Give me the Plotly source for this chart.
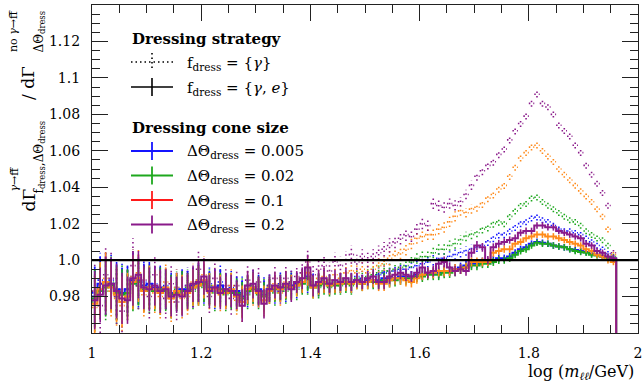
import plotly.graph_objects as go

# ---------------- data ----------------
x_start = 1.0
bin_width = 0.01
n_bins = 96
edges = [round(x_start + bin_width * i, 3) for i in range(n_bins + 1)]
centers = [round((edges[i] + edges[i + 1]) / 2, 4) for i in range(n_bins)]

# shared half-lengths of the error bars
err = [0.016, 0.015, 0.016, 0.014, 0.015, 0.014, 0.013, 0.015, 0.013, 0.012,
       0.012, 0.011, 0.012, 0.011, 0.011, 0.010, 0.011, 0.010, 0.010, 0.011,
       0.010, 0.009, 0.010, 0.009, 0.009, 0.009, 0.008, 0.009, 0.008, 0.008,
       0.008, 0.008, 0.007, 0.007, 0.007, 0.007, 0.007, 0.006, 0.006, 0.007,
       0.006, 0.006, 0.006, 0.005, 0.005, 0.005, 0.005, 0.005, 0.004, 0.004,
       0.004, 0.004, 0.004, 0.004, 0.004, 0.0035, 0.0035, 0.0035, 0.003, 0.003,
       0.003, 0.003, 0.003, 0.003, 0.003, 0.0028, 0.0028, 0.0026, 0.0026, 0.0025,
       0.0025, 0.0024, 0.0023, 0.0022, 0.0021, 0.002, 0.002, 0.002, 0.0019, 0.0019,
       0.0018, 0.0018, 0.0018, 0.0018, 0.0018, 0.0018, 0.0018, 0.0018, 0.0018, 0.0018,
       0.0018, 0.0018, 0.0018, 0.0018, 0.0018, 0.0018]

# f_dress = {gamma, e}  (solid)
solid_005 = [0.980, 0.987, 0.988, 0.987, 0.984, 0.982, 0.984, 0.989, 0.989, 0.986,
             0.987, 0.985, 0.985, 0.984, 0.982, 0.983, 0.984, 0.984, 0.986, 0.987,
             0.988, 0.985, 0.985, 0.986, 0.984, 0.983, 0.983, 0.980, 0.984, 0.985,
             0.984, 0.981, 0.984, 0.985, 0.985, 0.986, 0.986, 0.987, 0.988, 0.991,
             0.986, 0.987, 0.988, 0.987, 0.987, 0.988, 0.988, 0.988, 0.989, 0.988,
             0.989, 0.989, 0.989, 0.990, 0.990, 0.990, 0.991, 0.991, 0.991, 0.992,
             0.992, 0.993, 0.993, 0.993, 0.994, 0.994, 0.995, 0.996, 0.997, 0.998,
             0.998, 0.999, 0.999, 1.000, 1.001, 1.001, 1.002, 1.004, 1.006, 1.007,
             1.009, 1.010, 1.0095, 1.009, 1.008, 1.0075, 1.007, 1.006, 1.0055, 1.005,
             1.0045, 1.0035, 1.003, 1.002, 1.0015, 1.0007]
solid_002 = [0.979, 0.983, 0.985, 0.986, 0.982, 0.981, 0.982, 0.987, 0.988, 0.984,
             0.985, 0.983, 0.984, 0.983, 0.981, 0.982, 0.983, 0.983, 0.985, 0.986,
             0.987, 0.984, 0.984, 0.984, 0.983, 0.982, 0.982, 0.979, 0.983, 0.984,
             0.983, 0.980, 0.983, 0.984, 0.984, 0.985, 0.985, 0.986, 0.987, 0.990,
             0.985, 0.986, 0.987, 0.986, 0.986, 0.987, 0.987, 0.987, 0.988, 0.987,
             0.988, 0.988, 0.988, 0.989, 0.989, 0.989, 0.990, 0.990, 0.990, 0.991,
             0.991, 0.992, 0.992, 0.992, 0.993, 0.993, 0.994, 0.995, 0.996, 0.997,
             0.997, 0.998, 0.998, 0.999, 1.000, 1.000, 1.001, 1.003, 1.005, 1.006,
             1.008, 1.0095, 1.009, 1.009, 1.008, 1.0075, 1.007, 1.006, 1.005, 1.0045,
             1.004, 1.003, 1.0025, 1.002, 1.001, 1.0005]
solid_01 = [0.976, 0.984, 0.988, 0.985, 0.981, 0.977, 0.980, 0.988, 0.990, 0.983,
            0.985, 0.984, 0.982, 0.985, 0.979, 0.983, 0.981, 0.982, 0.985, 0.986,
            0.989, 0.984, 0.984, 0.983, 0.982, 0.984, 0.980, 0.977, 0.984, 0.985,
            0.982, 0.978, 0.983, 0.985, 0.984, 0.986, 0.985, 0.986, 0.988, 0.993,
            0.985, 0.987, 0.988, 0.986, 0.987, 0.987, 0.988, 0.987, 0.988, 0.987,
            0.988, 0.989, 0.987, 0.987, 0.989, 0.990, 0.990, 0.989, 0.988, 0.990,
            0.992, 0.993, 0.993, 0.994, 0.994, 0.994, 0.995, 0.995, 0.996, 0.999,
            0.999, 0.999, 0.999, 1.004, 1.005, 1.006, 1.006, 1.009, 1.010, 1.012,
            1.013, 1.014, 1.014, 1.013, 1.013, 1.012, 1.011, 1.010, 1.009, 1.008,
            1.006, 1.005, 1.003, 1.002, 1.000, 0.999]
solid_02 = [0.978, 0.981, 0.986, 0.987, 0.983, 0.979, 0.978, 0.990, 0.992, 0.985,
            0.984, 0.986, 0.983, 0.984, 0.980, 0.981, 0.980, 0.983, 0.987, 0.988,
            0.991, 0.983, 0.985, 0.982, 0.984, 0.983, 0.981, 0.975, 0.986, 0.987,
            0.983, 0.976, 0.984, 0.986, 0.985, 0.987, 0.984, 0.988, 0.990, 0.996,
            0.986, 0.988, 0.990, 0.987, 0.989, 0.988, 0.990, 0.988, 0.989, 0.988,
            0.990, 0.991, 0.988, 0.988, 0.991, 0.992, 0.993, 0.992, 0.991, 0.993,
            0.996, 0.993, 0.994, 0.998, 0.999, 0.996, 0.994, 0.995, 0.994, 1.004,
            1.008, 1.007, 1.000, 1.007, 1.009, 1.010, 1.011, 1.012, 1.015, 1.016,
            1.016, 1.019, 1.019, 1.018, 1.018, 1.016, 1.015, 1.014, 1.013, 1.012,
            1.009, 1.008, 1.005, 1.004, 1.002, 1.001]

# f_dress = {gamma}  (dotted)
dotted_005 = [0.982, 0.989, 0.986, 0.989, 0.982, 0.984, 0.982, 0.991, 0.987, 0.988,
              0.985, 0.987, 0.983, 0.986, 0.980, 0.985, 0.982, 0.986, 0.984, 0.989,
              0.986, 0.987, 0.983, 0.988, 0.982, 0.985, 0.981, 0.982, 0.982, 0.987,
              0.982, 0.983, 0.986, 0.983, 0.987, 0.984, 0.988, 0.985, 0.990, 0.989,
              0.988, 0.986, 0.990, 0.986, 0.989, 0.987, 0.990, 0.987, 0.991, 0.990,
              0.990, 0.991, 0.992, 0.993, 0.994, 0.994, 0.995, 0.995, 0.996, 0.997,
              0.998, 0.999, 1.000, 1.001, 1.001, 1.002, 1.003, 1.004, 1.005, 1.006,
              1.007, 1.008, 1.010, 1.012, 1.014, 1.014, 1.016, 1.018, 1.020, 1.021,
              1.023, 1.0236, 1.022, 1.021, 1.019, 1.017, 1.016, 1.016, 1.015, 1.014,
              1.012, 1.010, 1.008, 1.006, 1.0035, 1.001]
dotted_002 = [0.977, 0.985, 0.983, 0.988, 0.980, 0.983, 0.980, 0.989, 0.986, 0.986,
              0.983, 0.985, 0.982, 0.985, 0.979, 0.984, 0.981, 0.985, 0.983, 0.988,
              0.985, 0.986, 0.982, 0.986, 0.981, 0.984, 0.980, 0.981, 0.981, 0.986,
              0.981, 0.982, 0.985, 0.982, 0.986, 0.983, 0.987, 0.984, 0.989, 0.988,
              0.987, 0.985, 0.989, 0.985, 0.988, 0.986, 0.989, 0.986, 0.990, 0.989,
              0.991, 0.992, 0.993, 0.994, 0.994, 0.995, 0.996, 0.997, 0.999, 1.001,
              1.002, 1.002, 1.004, 1.006, 1.006, 1.008, 1.009, 1.011, 1.013, 1.014,
              1.015, 1.017, 1.018, 1.020, 1.021, 1.020, 1.024, 1.027, 1.030, 1.031,
              1.034, 1.0345, 1.032, 1.030, 1.028, 1.026, 1.024, 1.022, 1.021, 1.019,
              1.016, 1.014, 1.012, 1.011, 1.008, 1.002]
dotted_01 = [0.974, 0.986, 0.990, 0.983, 0.979, 0.975, 0.982, 0.991, 0.993, 0.981,
             0.987, 0.982, 0.980, 0.988, 0.977, 0.985, 0.979, 0.980, 0.988, 0.989,
             0.992, 0.982, 0.986, 0.981, 0.983, 0.986, 0.978, 0.975, 0.986, 0.983,
             0.984, 0.977, 0.985, 0.987, 0.982, 0.988, 0.986, 0.988, 0.990, 0.996,
             0.987, 0.990, 0.991, 0.989, 0.992, 0.990, 0.993, 0.994, 0.993, 0.995,
             0.993, 0.995, 0.997, 0.998, 1.001, 1.003, 1.004, 1.006, 1.009, 1.012,
             1.013, 1.014, 1.014, 1.017, 1.018, 1.021, 1.024, 1.027, 1.026, 1.028,
             1.029, 1.031, 1.034, 1.036, 1.039, 1.041, 1.046, 1.051, 1.056, 1.059,
             1.062, 1.063, 1.060, 1.057, 1.054, 1.050, 1.047, 1.044, 1.041, 1.038,
             1.035, 1.032, 1.028, 1.024, 1.017, 1.003]
dotted_02 = [0.983, 0.975, 0.992, 0.990, 0.980, 0.972, 0.984, 0.997, 0.986, 0.989,
             0.980, 0.992, 0.985, 0.979, 0.987, 0.977, 0.984, 0.986, 0.984, 0.995,
             0.987, 0.980, 0.990, 0.985, 0.986, 0.979, 0.986, 0.978, 0.989, 0.984,
             0.988, 0.981, 0.986, 0.990, 0.983, 0.990, 0.988, 0.991, 0.993, 0.999,
             0.992, 0.995, 0.997, 0.994, 0.999, 0.997, 1.000, 1.003, 0.999, 1.002,
             1.000, 1.002, 1.004, 1.006, 1.008, 1.010, 1.012, 1.014, 1.013, 1.017,
             1.020, 1.019, 1.031, 1.030, 1.029, 1.031, 1.030, 1.032, 1.036, 1.041,
             1.046, 1.049, 1.052, 1.054, 1.058, 1.061, 1.066, 1.071, 1.075, 1.079,
             1.086, 1.091, 1.086, 1.084, 1.080, 1.074, 1.071, 1.068, 1.063, 1.059,
             1.052, 1.047, 1.042, 1.037, 1.030, 1.004]

cone_labels = ["0.005", "0.02", "0.1", "0.2"]
legend_colors = ["#1414ff", "#1ea81e", "#ff1a1a", "#8a1a8a"]
data_colors = ["#1414ff", "#1ea81e", "#ff8a1a", "#8a1a8a"]
solid_series = [solid_005, solid_002, solid_01, solid_02]
dotted_series = [dotted_005, dotted_002, dotted_01, dotted_02]
ref_level = 1.0

for arr in solid_series + dotted_series + [err]:
    assert len(arr) == n_bins, len(arr)

# ---------------- figure ----------------
W, H = 644, 385
ML, MR, MT, MB = 92, 6, 5, 52
PW, PH = W - ML - MR, H - MT - MB
FONT = "DejaVu Serif"
DOT = "1.5px,3px"


def px(xp):
    return (xp - ML) / PW


def py(yp):
    return (MT + PH - yp) / PH


fig = go.Figure()


def err_segments(vals):
    xs, ys = [], []
    for c, v, e in zip(centers, vals, err):
        xs += [c, c, None]
        ys += [v - e, v + e, None]
    return xs, ys


# dotted series
for vals, col in zip(dotted_series, data_colors):
    xs, ys = [], []
    for i, v in enumerate(vals):
        xs += [edges[i], edges[i + 1], None]
        ys += [v, v, None]
    ex, ey = err_segments(vals)
    fig.add_trace(go.Scatter(x=xs + ex, y=ys + ey, mode="lines",
                             line=dict(color=col, width=1.6, dash=DOT),
                             showlegend=False, hoverinfo="skip"))

# solid series
for vals, col in zip(solid_series, data_colors):
    ex, ey = err_segments(vals)
    fig.add_trace(go.Scatter(x=ex, y=ey, mode="lines",
                             line=dict(color=col, width=1.6),
                             showlegend=False, hoverinfo="skip"))
    fig.add_trace(go.Scatter(x=edges + [edges[-1]], y=vals + [vals[-1], 0.0],
                             mode="lines", line=dict(color=col, width=2, shape="hv"),
                             showlegend=False, hoverinfo="skip"))

shapes = [dict(type="line", xref="paper", yref="y", x0=0, x1=1,
               y0=ref_level, y1=ref_level, line=dict(color="black", width=2.2))]
annotations = []

# ---- legend (drawn by hand) ----
LX0, LX1, LXC, TX = 131, 173, 152, 185
annotations.append(dict(xref="paper", yref="paper", x=px(LX0 - 1), y=py(39),
                        xanchor="left", yanchor="middle", showarrow=False,
                        text="<b>Dressing strategy</b>",
                        font=dict(family=FONT, size=15, color="black")))
annotations.append(dict(xref="paper", yref="paper", x=px(LX0 - 1), y=py(128),
                        xanchor="left", yanchor="middle", showarrow=False,
                        text="<b>Dressing cone size</b>",
                        font=dict(family=FONT, size=15, color="black")))

strategy_rows = [(62, "dot", "f<sub>dress</sub> = {<i>γ</i>}"),
                 (87, "solid", "f<sub>dress</sub> = {<i>γ</i>, <i>e</i>}")]
for yrow, dash, label in strategy_rows:
    d = DOT if dash == "dot" else "solid"
    shapes.append(dict(type="line", xref="paper", yref="paper",
                       x0=px(LX0), x1=px(LX1), y0=py(yrow), y1=py(yrow),
                       line=dict(color="black", width=1.6, dash=d)))
    shapes.append(dict(type="line", xref="paper", yref="paper",
                       x0=px(LXC), x1=px(LXC), y0=py(yrow - 9), y1=py(yrow + 9),
                       line=dict(color="black", width=1.6, dash=d)))
    annotations.append(dict(xref="paper", yref="paper", x=px(TX), y=py(yrow + 1),
                            xanchor="left", yanchor="middle", showarrow=False,
                            text=label, font=dict(family=FONT, size=15, color="black")))

cone_rows = [151, 175.5, 200, 224.5]
for yrow, lab, col in zip(cone_rows, cone_labels, legend_colors):
    shapes.append(dict(type="line", xref="paper", yref="paper",
                       x0=px(LX0), x1=px(LX1), y0=py(yrow), y1=py(yrow),
                       line=dict(color=col, width=1.8)))
    shapes.append(dict(type="line", xref="paper", yref="paper",
                       x0=px(LXC), x1=px(LXC), y0=py(yrow - 9), y1=py(yrow + 9),
                       line=dict(color=col, width=1.8)))
    annotations.append(dict(xref="paper", yref="paper", x=px(TX), y=py(yrow + 1),
                            xanchor="left", yanchor="middle", showarrow=False,
                            text="ΔΘ<sub>dress</sub> = " + lab,
                            font=dict(family=FONT, size=15, color="black")))

# ---- axis titles ----
annotations.append(dict(xref="paper", yref="paper", x=px(636), y=py(372),
                        xanchor="right", yanchor="middle", showarrow=False,
                        text="log (<i>m</i><sub><i>ℓℓ</i></sub>/GeV)",
                        font=dict(family=FONT, size=16, color="black")))

ytitle_parts = [
    # (x_center_px, y_bottom_px, text, size)
    (28, 214, "dΓ", 17),
    (14, 194, "<i>γ</i>→ff̄", 11),
    (39, 196, "f<sub>dress</sub>,ΔΘ<sub>dress</sub>", 12),
    (28, 102, "/ dΓ", 17),
    (13, 54, "no <i>γ</i>→ff̄", 11),
    (39, 55, "ΔΘ<sub>dress</sub>", 12),
]
for xc, yb, txt, sz in ytitle_parts:
    annotations.append(dict(xref="paper", yref="paper", x=px(xc), y=py(yb),
                            xanchor="center", yanchor="bottom", showarrow=False,
                            textangle=-90, text=txt,
                            font=dict(family=FONT, size=sz, color="black")))

axis_common = dict(showgrid=False, zeroline=False, showline=True, linecolor="#222",
                   linewidth=1.3, mirror="allticks", ticks="inside", tickcolor="#222",
                   tickwidth=1.2, ticklen=16, automargin=False,
                   tickfont=dict(family=FONT, size=14, color="black"))

fig.update_layout(
    width=W, height=H,
    margin=dict(l=ML, r=MR, t=MT, b=MB, autoexpand=False),
    paper_bgcolor="white", plot_bgcolor="white",
    showlegend=False,
    shapes=shapes, annotations=annotations,
    xaxis=dict(range=[1.0, 2.0],
               tickvals=[1.0, 1.2, 1.4, 1.6, 1.8, 2.0],
               ticktext=["1", "1.2", "1.4", "1.6", "1.8", "2"],
               ticklabelstandoff=7,
               minor=dict(dtick=0.05, tick0=1.0, ticks="inside", ticklen=8,
                          tickcolor="#222", tickwidth=1.1),
               **axis_common),
    yaxis=dict(range=[0.96, 1.14],
               tickvals=[0.98, 1.0, 1.02, 1.04, 1.06, 1.08, 1.1, 1.12],
               ticktext=["0.98", "1.0", "1.02", "1.04", "1.06", "1.08", "1.1", "1.12"],
               ticklabelstandoff=8,
               minor=dict(dtick=0.005, tick0=0.96, ticks="inside", ticklen=8,
                          tickcolor="#222", tickwidth=1.1),
               **axis_common),
)

fig.write_html("out.html",
               config={"displayModeBar": False},
               post_script="document.body.style.margin='0';"
                           "document.body.style.padding='0';"
                           "document.body.style.overflow='hidden';")
